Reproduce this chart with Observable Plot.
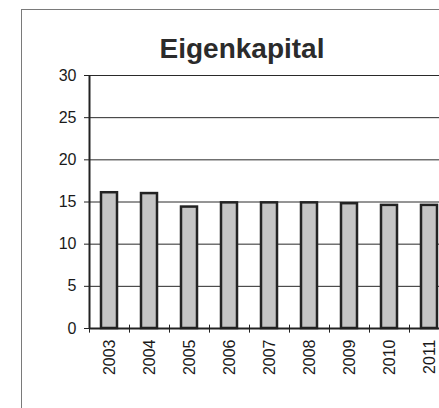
<!DOCTYPE html>
<html><head><meta charset="utf-8">
<script src="https://cdn.jsdelivr.net/npm/d3@7"></script>
<script src="https://cdn.jsdelivr.net/npm/@observablehq/plot@0.6"></script>
<style>
html,body{margin:0;padding:0;overflow:hidden;background:#fff;width:439px;height:408px}
#wrap{position:relative;width:439px;height:408px;overflow:hidden;font-family:"Liberation Sans",Arial,sans-serif}
#frame{position:absolute;left:21px;top:9px;width:600px;height:600px;border:1px solid #7a7a7a;box-sizing:border-box}
#title{position:absolute;left:0;width:484px;top:35px;text-align:center;font-weight:bold;font-size:28px;line-height:28px;color:#2b2b2b}
#chart{position:absolute;left:0;top:0;width:470px;height:408px}
#chart svg{max-width:none !important;width:470px !important;height:408px !important}
</style></head><body>
<div id="wrap"><div id="frame"></div><div id="title">Eigenkapital</div><div id="chart"></div></div>
<script>
const years = ["2003","2004","2005","2006","2007","2008","2009","2010","2011"];
const values = [16.1, 16.0, 14.4, 14.9, 14.9, 14.9, 14.8, 14.6, 14.6];
const yTicks = [0, 5, 10, 15, 20, 25, 30];
const data = years.map((year, i) => ({year, value: values[i]}));

const chart = Plot.plot({
  width: 470, height: 408,
  marginLeft: 89, marginRight: 21, marginTop: 75, marginBottom: 80,
  style: {fontFamily: '"Liberation Sans", Arial, sans-serif', fontSize: "16px", background: "transparent", color: "#1a1a1a"},
  x: {domain: years, paddingInner: 0.6, paddingOuter: 0.3, label: null},
  y: {domain: [0, 30], label: null},
  marks: [
    Plot.gridY(yTicks.slice(1), {stroke: "#2a2a2a", strokeOpacity: 1, strokeWidth: 1}),
    Plot.barY(data, {x: "year", y: "value", fill: "#c4c4c4", stroke: "#222", strokeWidth: 2.5}),
    Plot.ruleY([0], {stroke: "#222", strokeWidth: 2}),
    Plot.ruleX([years[0]], {x: d => d, dx: -20, y1: 0, y2: 30, stroke: "#222", strokeWidth: 2}),
    Plot.ruleX(years, {x: d => d, dx: -20, y1: -0.55, y2: 0.4, stroke: "#222", strokeWidth: 1}),
    Plot.axisY({ticks: yTicks, tickSize: 5, tickPadding: 8, label: null, fontSize: 16, stroke: "#222"}),
    Plot.axisX({tickRotate: -90, tickSize: 0, tickPadding: 11, label: null, fontSize: 16})
  ]
});
document.getElementById("chart").appendChild(chart);
</script>
</body></html>
